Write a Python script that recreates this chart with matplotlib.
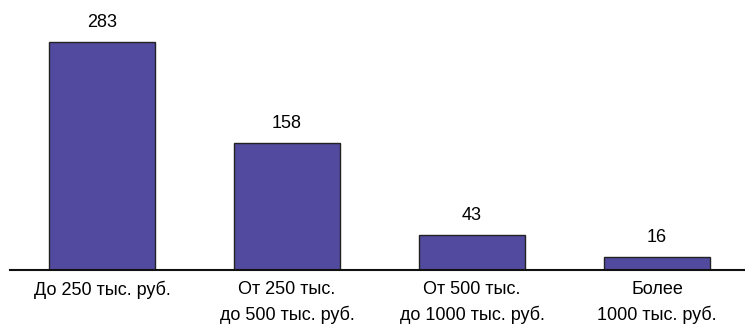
import matplotlib.pyplot as plt
from matplotlib import font_manager

categories = ['До 250 тыс. руб.', 'От 250 тыс.\nдо 500 тыс. руб.',
              'От 500 тыс.\nдо 1000 тыс. руб.', 'Более\n1000 тыс. руб.']
values = [283, 158, 43, 16]

names = {f.name for f in font_manager.fontManager.ttflist}
font = 'Liberation Sans Narrow' if 'Liberation Sans Narrow' in names else 'Liberation Sans'
plt.rcParams['font.family'] = [font, 'DejaVu Sans']

fig = plt.figure(figsize=(7.45, 3.28), dpi=100)
ax = fig.add_axes([10 / 745, 58 / 328, 735 / 745, 270 / 328])

x = range(len(values))
bars = ax.bar(x, values, width=0.573, color='#514A9E', edgecolor='#222222', linewidth=1.0, zorder=2)

for b, v in zip(bars, values):
    ax.annotate(str(v), (b.get_x() + b.get_width() / 2, v), xytext=(0, 8),
                textcoords='offset points', ha='center', va='bottom', fontsize=13)

ax.set_xlim(-0.497, 3.476)
ax.set_ylim(0, 335)
ax.set_xticks(list(x))
ax.set_xticklabels(categories, fontsize=13, linespacing=1.5)
ax.tick_params(axis='x', length=0, pad=8)
ax.set_yticks([])
for s in ['top', 'left', 'right']:
    ax.spines[s].set_visible(False)
ax.spines['bottom'].set_linewidth(1.5)
ax.spines['bottom'].set_color('#111111')

fig.savefig('out.png', dpi=100)
